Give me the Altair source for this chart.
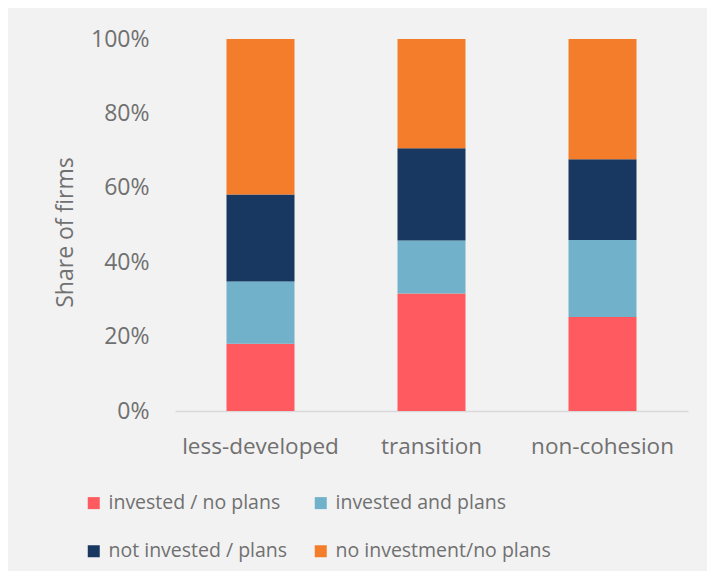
import altair as alt
import pandas as pd

regions = ["less-developed", "transition", "non-cohesion"]
series = ["invested / no plans", "invested and plans", "not invested / plans", "no investment/no plans"]
colors = ["#FF5A5F", "#71B1C9", "#183861", "#F47D2B"]
values = {
    "invested / no plans": [0.181, 0.316, 0.253],
    "invested and plans": [0.167, 0.142, 0.207],
    "not invested / plans": [0.234, 0.248, 0.217],
    "no investment/no plans": [0.418, 0.294, 0.323],
}

rows = []
for si, s in enumerate(series):
    for ri, r in enumerate(regions):
        rows.append({"region": r, "series": s, "value": values[s][ri], "order": si})
df = pd.DataFrame(rows)

FONT = "Open Sans"
TXT = "#707070"

chart = alt.Chart(df).mark_bar(size=68).encode(
    x=alt.X("region:N", sort=regions, title=None,
            scale=alt.Scale(paddingInner=0.6, paddingOuter=0.3),
            axis=alt.Axis(labelAngle=0, labelFontSize=22.5, labelColor=TXT, labelFont=FONT,
                          labelPadding=24, ticks=False, domainColor="#D9D9D9", domainWidth=1.5)),
    y=alt.Y("value:Q", stack="zero", title="Share of firms",
            scale=alt.Scale(domain=[0, 1], nice=False),
            axis=alt.Axis(format=".0%", values=[0, 0.2, 0.4, 0.6, 0.8, 1.0], grid=False,
                          domain=False, ticks=False, labelFontSize=23, labelColor=TXT,
                          labelFont=FONT, labelPadding=26, titleFontSize=23, titleColor=TXT,
                          titleFont=FONT, titleFontWeight="normal", titlePadding=13,
                          titleY=193)),
    color=alt.Color("series:N", sort=series,
                    scale=alt.Scale(domain=series, range=colors),
                    legend=alt.Legend(title=None, orient="none", direction="horizontal",
                                      legendX=-91, legendY=82 + 372,
                                      columns=2, columnPadding=23, rowPadding=27.5,
                                      symbolType="square", symbolSize=144, symbolStrokeWidth=0,
                                      labelFontSize=19.5, labelColor=TXT, labelFont=FONT,
                                      labelOffset=5, labelLimit=400)),
    order=alt.Order("order:Q"),
).properties(
    width=513, height=372,
    autosize=alt.AutoSizeParams(type="none"),
    padding={"left": 167, "top": 31, "right": 19, "bottom": 160},
    background="#F2F2F2",
).configure_view(stroke=None)

chart.save("out.html", embed_options={"renderer": "svg", "actions": False})
